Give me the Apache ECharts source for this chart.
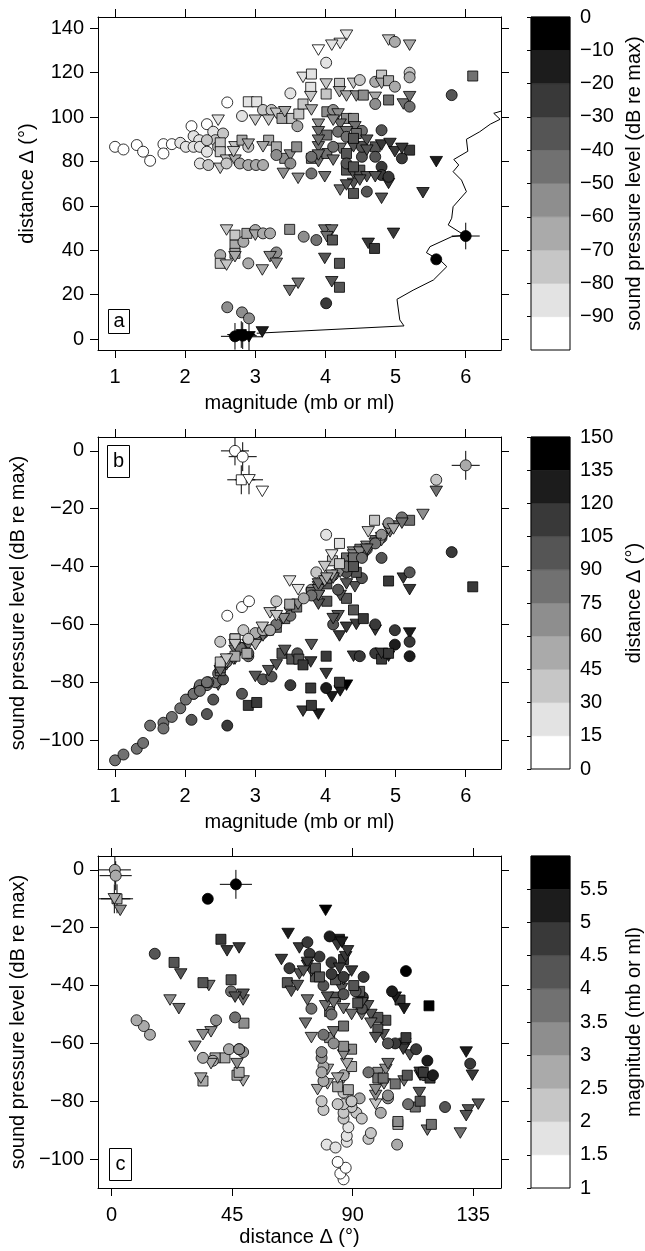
<!DOCTYPE html>
<html><head><meta charset="utf-8">
<script src="https://cdn.jsdelivr.net/npm/echarts@6/dist/echarts.min.js"></script>
<style>html,body{margin:0;padding:0;background:#fff}#c{width:645px;height:1251px}</style>
</head><body><div id="c"></div>
<script>
// ---------- event data (magnitude, distance °, sound pressure level dB re max, marker shape) ----------
const mag = [
 4.30,4.21,4.09,3.90,4.01,4.90,4.99,5.20,
 3.68,3.80,3.79,3.50,3.79,4.01,4.01,4.20,4.20,4.40,
 4.49,4.30,4.44,4.54,4.71,4.80,4.80,4.90,4.99,5.20,
 5.20,4.71,4.71,4.90,5.11,5.20,5.20,6.10,5.80,
 2.60,2.90,3.02,2.81,3.11,3.23,2.47,3.00,3.19,3.30,
 3.38,3.42,3.52,3.60,3.62,3.68,3.80,4.02,4.11,4.18,
 4.30,4.21,4.40,4.42,4.52,4.80,4.44,3.90,3.90,4.18,4.30,4.11,
 1.00,1.12,1.31,1.40,1.50,1.69,1.81,1.93,1.69,2.09,2.31,
 2.12,2.20,2.40,2.01,2.12,2.21,2.31,2.43,2.21,2.33,2.47,2.54,
 2.50,2.50,2.59,2.50,2.59,2.71,2.71,2.81,2.90,2.90,2.78,2.90,
 3.01,3.11,3.19,3.11,3.30,3.42,3.50,3.50,3.59,3.40,3.61,
 3.80,3.99,3.80,3.90,4.02,4.02,3.90,3.90,4.21,4.30,
 4.30,4.30,4.40,4.40,4.49,4.59,4.80,4.71,4.80,4.92,5.20,4.99,5.09,
 4.40,4.40,4.21,4.30,4.59,4.80,4.80,4.90,4.90,4.71,5.58,5.39,
 3.90,4.59,4.11,4.52,4.11,4.30,4.49,4.40,4.71,5.09,4.52,4.59,3.80,4.40,3.30,2.69,2.31,
 2.59,2.71,2.71,2.71,2.83,2.88,3.00,3.00,3.11,3.21,
 3.49,3.69,3.87,3.99,4.09,4.02,4.10,4.97,4.61,4.70,
 2.50,2.50,2.59,2.71,2.90,3.10,3.30,3.21,3.30,3.99,4.20,
 3.49,3.61,4.09,4.20,4.01,5.58,
 2.60,2.81,2.91,3.10
];
const dist = [
 136.9,133.2,132.4,130.2,124.5,134.7,133.9,132.4,
 117.9,119.4,113.4,110.7,109.2,114.9,110.4,115.2,111.4,115.2,
 116.7,109.5,109.5,109.9,115.9,118.9,115.2,116.4,113.7,120.0,
 117.9,108.9,105.9,107.7,105.9,109.2,104.7,118.5,109.9,
 106.6,106.9,106.9,100.5,103.2,103.2,98.6,98.6,98.6,101.7,
 99.4,102.4,99.4,95.9,101.4,105.9,103.2,102.4,103.2,101.4,
 99.4,96.8,99.4,95.6,93.8,94.1,92.6,96.8,93.4,93.4,93.4,98.6,
 86.6,85.4,87.4,84.4,80.3,87.8,87.8,88.4,83.6,95.9,96.8,
 91.4,89.6,93.4,86.6,86.6,86.6,84.4,89.6,79.1,78.4,86.6,92.6,
 88.4,84.4,80.6,76.9,79.1,86.6,80.6,89.6,86.6,87.8,79.1,78.4,
 78.4,78.4,89.6,86.6,86.6,81.4,82.9,79.1,86.6,74.6,72.4,
 74.6,73.1,81.4,79.9,91.9,83.6,86.6,89.6,85.9,91.1,
 83.6,76.1,86.6,74.6,76.1,73.1,77.6,86.6,87.4,88.1,85.1,84.4,81.4,
 70.1,65.6,67.1,69.4,66.4,63.4,73.9,70.1,73.1,73.1,79.9,65.9,
 82.9,89.6,86.6,82.1,80.6,79.1,71.6,77.6,82.1,85.9,86.6,85.1,82.1,90.4,82.9,84.4,89.6,
 49.1,46.8,42.3,38.6,43.8,47.6,49.1,46.8,47.6,47.6,
 49.4,46.1,44.6,49.1,49.1,46.1,44.6,47.6,43.1,40.8,
 37.8,34.1,33.3,37.1,34.1,31.1,39.0,37.1,34.1,36.3,34.1,
 21.8,25.1,25.8,23.3,16.1,35.9,
 14.3,12.0,9.3,3.2
];
const spl = [
 -81,-83,-85,-91,-82,-71,-67,-63,
 -90,-88,-82,-81,-73,-77,-71,-80,-64,-71,
 -71,-61,-60,-58,-70,-72,-70,-70,-62,-71,
 -66,-62,-60,-45,-44,-48,-42,-47,-35,
 -95,-88,-87,-84,-79,-78,-81,-78,-76,-74,
 -70,-69,-72,-70,-72,-74,-67,-52,-60,-57,
 -51,-50,-55,-47,-44,-37,-42,-53,-50,-48,-46,-58,
 -107,-105,-103,-101,-95,-94,-92,-89,-96,-93,-91,
 -84,-82,-86,-86,-84,-81,-81,-80,-83,-80,-77,-79,
 -76,-75,-74,-76,-73,-72,-69,-68,-71,-67,-68,-70,
 -65,-63,-62,-64,-61,-58,-56,-57,-54,-58,-53,
 -48,-45,-49,-47,-46,-44,-48,-50,-41,-42,
 -38,-37,-38,-35,-34,-33,-30,-31,-30,-28,-24,-26,-23,
 -36,-39,-42,-40,-34,-31,-29,-27,-25,-32,-14,-22,
 -46,-35,-43,-36,-44,-40,-35,-37,-32,-25,-37,-34,-50,-40,-60,-72,-80,
 -73,-71,-65,-65,-62,-70,-63,-67,-62,-62,
 -53,-51,-42,-45,-43,-44,-38,-27,-28,-24,
 -66,-73,-72,-67,-65,-61,-52,-56,-57,-40,-39,
 -45,-48,-36,-32,-29,-10,
 -57,-54,-52,-14
];
const shape = [
 't','t','t','t','c','t','c','t',
 't','s','s','c','t','t','s','s','t','t',
 'c','t','t','s','c','s','t','s','c','c',
 'c','t','c','s','t','t','c','s','c',
 'c','s','s','c','c','c','t','t','t','t',
 's','t','s','c','s','s','t','s','c','t',
 's','t','s','t','c','c','s','t','t','c','t','t',
 'c','c','c','c','c','c','c','c','c','c','c',
 'c','c','c','c','c','c','c','c','c','c','c','c',
 's','s','t','t','c','t','t','s','c','t','c','c',
 'c','c','s','t','s','s','t','c','s','t','t',
 'c','t','s','t','s','s','t','t','t','c',
 's','s','t','t','s','t','c','s','t','t','s','t','c',
 't','s','t','t','c','t','c','t','c','t','t','t',
 't','t','c','c','t','c','t','s','c','t','c','t','c','s','c','t','c',
 't','s','s','s','c','s','c','t','c','c',
 's','c','c','t','t','t','s','t','t','s',
 'c','s','t','t','c','t','c','t','t','t','s',
 't','t','t','s','c','c',
 'c','c','c','t'
];
// events drawn with uncertainty crosshairs
const crossMag = [6.00, 2.71, 2.82, 2.80, 2.91];
const crossDist = [46.4, 1.2, 1.5, 2.0, 1.0];
const crossSpl = [-5, 0, -2, -10, -10];
const crossShape = ['c','c','c','s','t'];
const crossHalf = [0.2, 6, 5]; // half-widths: magnitude, distance, level

// curve in panel a
const curveMag  = [3.02,5.12,5.06,5.02,5.25,5.54,5.73,5.66,5.44,5.49,5.80,5.98,5.75,5.80,5.82,6.01,5.94,5.82,5.90,5.83,6.03,6.01,6.20,6.35,6.49,6.40,6.56];
const curveDist = [2.6,5.9,8.6,17.9,22.0,26.6,32.6,34.8,38.9,41.6,46.1,46.8,51.4,54.4,59.6,66.4,71.6,75.4,78.4,80.9,84.6,90.0,93.4,96.8,99.0,101.7,103.2];

// axes ticks
const magTicks = [1,2,3,4,5,6];
const distTicksA = [0,20,40,60,80,100,120,140];
const splTicks = [0,-20,-40,-60,-80,-100];
const distTicksC = [0,45,90,135];
// colour-bar breaks and labels
const splBreaks = [-100,-90,-80,-70,-60,-50,-40,-30,-20,-10,0];
const distBreaks = [0,15,30,45,60,75,90,105,120,135,150];
const magBreaks = [1,1.5,2,2.5,3,3.5,4,4.5,5,5.5,6];
const splCbLabels = [-90,-80,-70,-60,-50,-40,-30,-20,-10,0];
const distCbLabels = [0,15,30,45,60,75,90,105,120,135,150];
const magCbLabels = [1,1.5,2,2.5,3,3.5,4,4.5,5,5.5];
const GRAYS = ['#000000','#1c1c1c','#393939','#555555','#717171','#8e8e8e','#aaaaaa','#c6c6c6','#e3e3e3','#ffffff'];

const FONT = 'Liberation Sans';
const TXT = {color:'#000', fontSize:20, fontFamily:FONT};
const fmt = v => (v < 0 ? '\u2212' + Math.abs(v) : String(v));
const SYM = {c:'circle', s:'rect', t:'path://M0,0L2,0L1,1.7Z'};
const SIZE = {c:11, s:10, t:[12.5,10.5]};

const allMag = mag.concat(crossMag), allDist = dist.concat(crossDist), allSpl = spl.concat(crossSpl), allShape = shape.concat(crossShape);

function grayFor(v, br){
  let j = 0;
  while (j < br.length - 2 && v >= br[j+1]) j++;
  return GRAYS[br.length - 2 - j];
}
function pts(xs, ys, cs, br){
  return xs.map((x,i)=>({value:[x, ys[i]], symbol:SYM[allShape[i]], symbolSize:SIZE[allShape[i]],
    itemStyle:{color:grayFor(cs[i], br)}}));
}

function mainX(gi, min, max, ticks, pos, name, gap){
  const lab = pos === 'bottom';
  return {type:'value', gridIndex:gi, position:pos, min, max, splitLine:{show:false},
    axisLine:{show:true, onZero:false, lineStyle:{color:'#000', width:1}},
    axisTick:{show:true, inside:false, length:8, customValues:ticks, lineStyle:{color:'#000', width:1}},
    axisLabel:Object.assign({show:lab, customValues:ticks, formatter:fmt, margin:17}, TXT),
    name: lab ? name : '', nameLocation:'middle', nameGap:gap, nameTextStyle:TXT};
}
function mainY(gi, min, max, ticks, pos, name, gap){
  const lab = pos === 'left';
  return {type:'value', gridIndex:gi, position:pos, min, max, splitLine:{show:false},
    axisLine:{show:true, onZero:false, lineStyle:{color:'#000', width:1}},
    axisTick:{show:true, inside:false, length:8, customValues:ticks, lineStyle:{color:'#000', width:1}},
    axisLabel:Object.assign({show:lab, customValues:ticks, formatter:fmt, margin:14}, TXT),
    name: lab ? name : '', nameLocation:'middle', nameGap:gap, nameTextStyle:TXT};
}
function cbX(gi){ return {type:'value', gridIndex:gi, min:0, max:1, show:false}; }
function cbYL(gi, min, max, ticks){
  return {type:'value', gridIndex:gi, position:'left', min, max, splitLine:{show:false},
    axisLine:{show:false, onZero:false}, axisLabel:{show:false},
    axisTick:{show:true, inside:false, length:4, customValues:ticks, lineStyle:{color:'#000', width:1}}};
}
function cbYR(gi, min, max, labels, name){
  return {type:'value', gridIndex:gi, position:'right', min, max, splitLine:{show:false},
    axisLine:{show:false, onZero:false}, axisTick:{show:false},
    axisLabel:Object.assign({show:true, customValues:labels, formatter:fmt, margin:10}, TXT),
    name, nameLocation:'middle', nameGap:54, nameTextStyle:TXT};
}
function cbSeries(xi, yi, br){
  const data = [];
  for (let j=0;j<br.length-1;j++) data.push([br[j], br[j+1], br.length-2-j]);
  return {type:'custom', xAxisIndex:xi, yAxisIndex:yi, silent:true, z:2, data,
    renderItem:(p, api)=>{
      const a = api.coord([0, api.value(1)]), b = api.coord([1, api.value(0)]);
      return {type:'rect', shape:{x:a[0], y:a[1], width:b[0]-a[0], height:b[1]-a[1]},
        style:{fill:GRAYS[api.value(2)], stroke:GRAYS[api.value(2)], lineWidth:0.5}};
    }};
}
function cbOutline(xi, yi, br){
  return {type:'custom', xAxisIndex:xi, yAxisIndex:yi, silent:true, z:4,
    data:[[br[0], br[br.length-1]]],
    renderItem:(p, api)=>{
      const a = api.coord([0, api.value(1)]), b = api.coord([1, api.value(0)]);
      return {type:'rect', shape:{x:a[0], y:a[1], width:b[0]-a[0], height:b[1]-a[1]},
        style:{fill:'none', stroke:'#000', lineWidth:1}};
    }};
}
function scatter(xi, yi, xs, ys, cs, br){
  return {type:'scatter', xAxisIndex:xi, yAxisIndex:yi, silent:true, z:3, animation:false,
    itemStyle:{borderColor:'#000', borderWidth:0.8, opacity:1},
    data: pts(xs, ys, cs, br)};
}
function cross(xi, yi, xs, ys, ex, ey){
  return {type:'custom', xAxisIndex:xi, yAxisIndex:yi, silent:true, clip:true, z:2,
    data: xs.map((x,i)=>[x, ys[i], ex, ey]),
    renderItem:(p, api)=>{
      const x=api.value(0), y=api.value(1), dx=api.value(2), dy=api.value(3);
      const l=api.coord([x-dx,y]), r=api.coord([x+dx,y]), b=api.coord([x,y-dy]), t=api.coord([x,y+dy]);
      return {type:'group', children:[
        {type:'line', shape:{x1:l[0],y1:l[1],x2:r[0],y2:r[1]}, style:{stroke:'#000', lineWidth:1}},
        {type:'line', shape:{x1:b[0],y1:b[1],x2:t[0],y2:t[1]}, style:{stroke:'#000', lineWidth:1}}]};
    }};
}

const PL = 98, PW = 403, CBL = 531, CBW = 41;
const tops = [17, 437, 856], hs = [333, 332, 332];
const grids = [];
for (let k=0;k<3;k++){
  grids.push({left:PL, top:tops[k], width:PW, height:hs[k], containLabel:false});
  grids.push({left:CBL, top:tops[k], width:CBW, height:hs[k], containLabel:false});
}
const MR = [0.757, 6.503], DR = [-4.96, 145.1], SR = [-110, 4.8], DRC = [-5.1, 145.4];

const xAxis = [
  mainX(0, MR[0], MR[1], magTicks, 'bottom', 'magnitude (mb or ml)', 43),
  mainX(0, MR[0], MR[1], magTicks, 'top'),
  cbX(1),
  mainX(2, MR[0], MR[1], magTicks, 'bottom', 'magnitude (mb or ml)', 43),
  mainX(2, MR[0], MR[1], magTicks, 'top'),
  cbX(3),
  mainX(4, DRC[0], DRC[1], distTicksC, 'bottom', 'distance \u0394 (\u00b0)', 39),
  mainX(4, DRC[0], DRC[1], distTicksC, 'top'),
  cbX(5)
];
const yAxis = [
  mainY(0, DR[0], DR[1], distTicksA, 'left', 'distance \u0394 (\u00b0)', 61),
  mainY(0, DR[0], DR[1], distTicksA, 'right'),
  cbYL(1, -100, 0, splCbLabels),
  cbYR(1, -100, 0, splCbLabels, 'sound pressure level (dB re max)'),
  mainY(2, SR[0], SR[1], splTicks, 'left', 'sound pressure level (dB re max)', 70),
  mainY(2, SR[0], SR[1], splTicks, 'right'),
  cbYL(3, 0, 150, distCbLabels),
  cbYR(3, 0, 150, distCbLabels, 'distance \u0394 (\u00b0)'),
  mainY(4, SR[0], SR[1], splTicks, 'left', 'sound pressure level (dB re max)', 70),
  mainY(4, SR[0], SR[1], splTicks, 'right'),
  cbYL(5, 1, 6, magCbLabels),
  cbYR(5, 1, 6, magCbLabels, 'magnitude (mb or ml)')
];

const series = [
  // colour bars
  cbSeries(2, 2, splBreaks), cbOutline(2, 2, splBreaks),
  cbSeries(5, 6, distBreaks), cbOutline(5, 6, distBreaks),
  cbSeries(8, 10, magBreaks), cbOutline(8, 10, magBreaks),
  // panel a
  {type:'line', xAxisIndex:0, yAxisIndex:0, silent:true, z:1, clip:true, showSymbol:false, symbol:'none',
   lineStyle:{color:'#000', width:1}, data: curveMag.map((m,i)=>[m, curveDist[i]])},
  cross(0, 0, crossMag, crossDist, crossHalf[0], crossHalf[1]),
  scatter(0, 0, allMag, allDist, allSpl, splBreaks),
  // panel b
  cross(3, 4, crossMag, crossSpl, crossHalf[0], crossHalf[2]),
  scatter(3, 4, allMag, allSpl, allDist, distBreaks),
  // panel c
  cross(6, 8, crossDist, crossSpl, crossHalf[1], crossHalf[2]),
  scatter(6, 8, allDist, allSpl, allMag, magBreaks)
];

function panelLabel(x, y, w, h, t){
  return [
    {type:'rect', z:20, shape:{x, y, width:w, height:h}, style:{fill:'#fff', stroke:'#000', lineWidth:1}},
    {type:'text', z:21, x:x+w/2, y:y+h/2, style:{text:t, font:'20px "Liberation Sans"', fill:'#000',
      textAlign:'center', textVerticalAlign:'middle', align:'center', verticalAlign:'middle'}}
  ];
}

const chart = echarts.init(document.getElementById('c'), null, {renderer:'canvas'});
chart.setOption({
  animation:false,
  backgroundColor:'#fff',
  textStyle:{fontFamily:FONT, color:'#000'},
  grid: grids, xAxis, yAxis, series,
  graphic: [].concat(
    panelLabel(108.5, 309.5, 21, 24, 'a'),
    panelLabel(107.5, 445.5, 22, 32, 'b'),
    panelLabel(109.5, 1148.5, 22, 32, 'c'))
});
</script></body></html>
